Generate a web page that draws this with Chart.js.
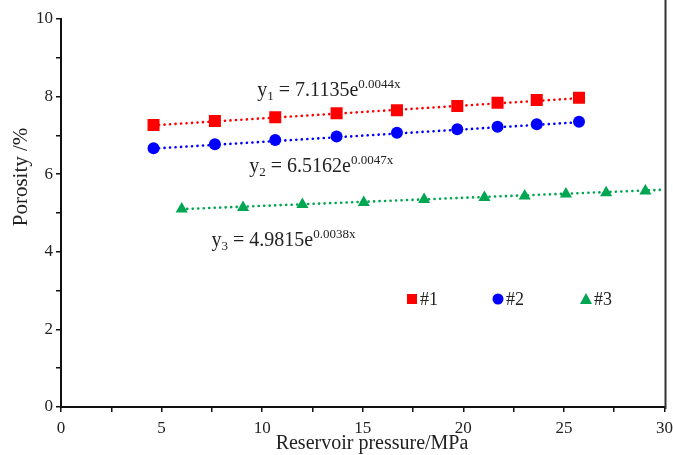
<!DOCTYPE html>
<html>
<head>
<meta charset="utf-8">
<script src="https://cdn.jsdelivr.net/npm/chart.js@4"></script>
<style>
  body { margin: 0; background: #fff; }
  #wrap { width: 673px; height: 455px; position: relative; }
</style>
</head>
<body>
<div id="wrap"><canvas id="porosityChart"></canvas></div>
<script>
// values
const pressure1 = [4.6, 7.65, 10.65, 13.7, 16.7, 19.7, 21.7, 23.65, 25.75];
const porosity1 = [7.27, 7.37, 7.47, 7.57, 7.65, 7.76, 7.84, 7.91, 7.97];
const pressure2 = [4.6, 7.65, 10.65, 13.7, 16.7, 19.7, 21.7, 23.65, 25.75];
const porosity2 = [6.67, 6.77, 6.88, 6.97, 7.07, 7.16, 7.22, 7.29, 7.35];
const pressure3 = [6.0, 9.05, 12.0, 15.05, 18.05, 21.05, 23.05, 25.1, 27.1, 29.05];
const porosity3 = [5.10, 5.14, 5.22, 5.27, 5.35, 5.40, 5.44, 5.49, 5.52, 5.57];

// fitted trend lines (end points)
const trendX1 = [4.6, 25.75], trendY1 = [7.26, 7.96];
const trendX2 = [4.6, 25.75], trendY2 = [6.66, 7.34];
const trendX3 = [6.0, 30], trendY3 = [5.10, 5.60];

const seriesNames = ['#1', '#2', '#3'];
const equations = [
    { sub: '1', coef: '7.1135', exp: '0.0044x' },
    { sub: '2', coef: '6.5162', exp: '0.0047x' },
    { sub: '3', coef: '4.9815', exp: '0.0038x' }
];
const xTitle = 'Reservoir pressure/MPa';
const yTitle = 'Porosity /%';

const RED = '#ff0000', BLUE = '#0000ff', GREEN = '#00a651';
const FONT = '"Liberation Serif", "Times New Roman", serif';
const INK = '#222';

const toPts = (xs, ys) => xs.map((x, i) => ({ x: x, y: ys[i] }));

function markerSet(label, xs, ys, color, style, r) {
    return {
        label: label,
        data: toPts(xs, ys),
        showLine: false,
        pointStyle: style,
        pointRadius: r,
        pointHoverRadius: r,
        pointBackgroundColor: color,
        pointBorderColor: color,
        pointBorderWidth: 0,
        order: 0
    };
}

function trendSet(xs, ys, color) {
    return {
        label: 'trend',
        data: toPts(xs, ys),
        showLine: true,
        borderColor: color,
        borderWidth: 2.6,
        borderDash: [0.1, 5.4],
        borderCapStyle: 'round',
        pointRadius: 0,
        order: 1
    };
}

// equation labels y_n = a e^(bx)
const equationPlugin = {
    id: 'equations',
    afterDatasetsDraw(chart, args, opts) {
        const ctx = chart.ctx;
        const xs = chart.scales.x, ys = chart.scales.y;
        ctx.save();
        ctx.fillStyle = INK;
        ctx.textBaseline = 'alphabetic';
        ctx.textAlign = 'left';
        opts.places.forEach((p, i) => {
            const eq = equations[i];
            let x = xs.getPixelForValue(p.x);
            const y = ys.getPixelForValue(p.y);
            ctx.font = '20px ' + FONT;
            ctx.fillText('y', x, y);
            x += ctx.measureText('y').width;
            ctx.font = '13px ' + FONT;
            ctx.fillText(eq.sub, x, y + 4);
            x += ctx.measureText(eq.sub).width;
            ctx.font = '20px ' + FONT;
            const mid = ' = ' + eq.coef + 'e';
            ctx.fillText(mid, x, y);
            x += ctx.measureText(mid).width;
            ctx.font = '13px ' + FONT;
            ctx.fillText(eq.exp, x, y - 8);
        });
        ctx.restore();
    }
};

// legend drawn inside the plot
const insideLegend = {
    id: 'insideLegend',
    afterDatasetsDraw(chart, args, opts) {
        const ctx = chart.ctx;
        const area = chart.chartArea;
        ctx.save();
        ctx.font = '18px ' + FONT;
        ctx.textBaseline = 'middle';
        opts.items.forEach((it, i) => {
            const cx = area.left + it.dx;
            const cy = area.top + opts.dy;
            const ds = chart.data.datasets[i];
            ctx.fillStyle = ds.pointBackgroundColor;
            ctx.beginPath();
            if (ds.pointStyle === 'rect') {
                ctx.rect(cx - 5, cy - 5, 10, 10);
            } else if (ds.pointStyle === 'circle') {
                ctx.arc(cx, cy, 5.5, 0, Math.PI * 2);
            } else {
                ctx.moveTo(cx, cy - 6);
                ctx.lineTo(cx + 6, cy + 5);
                ctx.lineTo(cx - 6, cy + 5);
                ctx.closePath();
            }
            ctx.fill();
            ctx.fillStyle = INK;
            ctx.fillText(seriesNames[i], cx + 8, cy + 1);
        });
        ctx.restore();
    }
};

// axis titles (placed off-centre like the original) and the right frame line
const framePlugin = {
    id: 'frame',
    afterDraw(chart) {
        const ctx = chart.ctx;
        const a = chart.chartArea;
        ctx.save();
        ctx.strokeStyle = '#333';
        ctx.lineWidth = 2;
        ctx.beginPath();
        ctx.moveTo(a.right + 1, 0);
        ctx.lineTo(a.right + 1, a.bottom + 2);
        ctx.stroke();

        ctx.fillStyle = INK;
        ctx.textAlign = 'center';
        ctx.textBaseline = 'alphabetic';
        ctx.font = '20px ' + FONT;
        ctx.fillText(xTitle, 372, a.bottom + 42);

        ctx.translate(27, a.top + 158);
        ctx.rotate(-Math.PI / 2);
        ctx.font = '21px ' + FONT;
        ctx.fillText(yTitle, 0, 0);
        ctx.restore();
    }
};

const ctx = document.getElementById('porosityChart').getContext('2d');
new Chart(ctx, {
    type: 'scatter',
    data: {
        datasets: [
            markerSet('#1', pressure1, porosity1, RED, 'rect', 8.5),
            markerSet('#2', pressure2, porosity2, BLUE, 'circle', 6),
            markerSet('#3', pressure3, porosity3, GREEN, 'triangle', 7),
            trendSet(trendX1, trendY1, RED),
            trendSet(trendX2, trendY2, BLUE),
            trendSet(trendX3, trendY3, GREEN)
        ]
    },
    plugins: [equationPlugin, insideLegend, framePlugin],
    options: {
        responsive: true,
        maintainAspectRatio: false,
        animation: false,
        layout: { padding: { top: 19, right: 0, left: 0, bottom: 0 } },
        plugins: {
            legend: { display: false },
            tooltip: { enabled: false },
            equations: {
                places: [
                    { x: 9.76, y: 8.02 },
                    { x: 9.36, y: 6.06 },
                    { x: 7.48, y: 4.15 }
                ]
            },
            insideLegend: {
                dy: 280,
                items: [{ dx: 351 }, { dx: 437 }, { dx: 525 }]
            }
        },
        scales: {
            x: {
                type: 'linear',
                min: 0,
                max: 30,
                afterFit(scale) {
                    scale.height = 48;
                    scale.paddingRight = 8;
                    scale.paddingLeft = 0;
                },
                ticks: {
                    stepSize: 2.5,
                    autoSkip: false,
                    maxRotation: 0,
                    padding: 6,
                    color: INK,
                    font: { family: FONT, size: 17 },
                    callback: v => (v % 5 === 0 ? v : '')
                },
                grid: { drawOnChartArea: false, tickLength: 5, color: '#111', lineWidth: 1.5 },
                border: { display: true, color: '#111', width: 2 },
                title: { display: false }
            },
            y: {
                min: 0,
                max: 10,
                afterFit(scale) { scale.width = 61; },
                ticks: {
                    stepSize: 1,
                    autoSkip: false,
                    padding: 3,
                    color: INK,
                    font: { family: FONT, size: 17 },
                    callback: v => (v % 2 === 0 ? v : '')
                },
                grid: { drawOnChartArea: false, tickLength: 5, color: '#111', lineWidth: 1.5 },
                border: { display: true, color: '#111', width: 2 },
                title: { display: false }
            }
        }
    }
});
</script>
</body>
</html>
